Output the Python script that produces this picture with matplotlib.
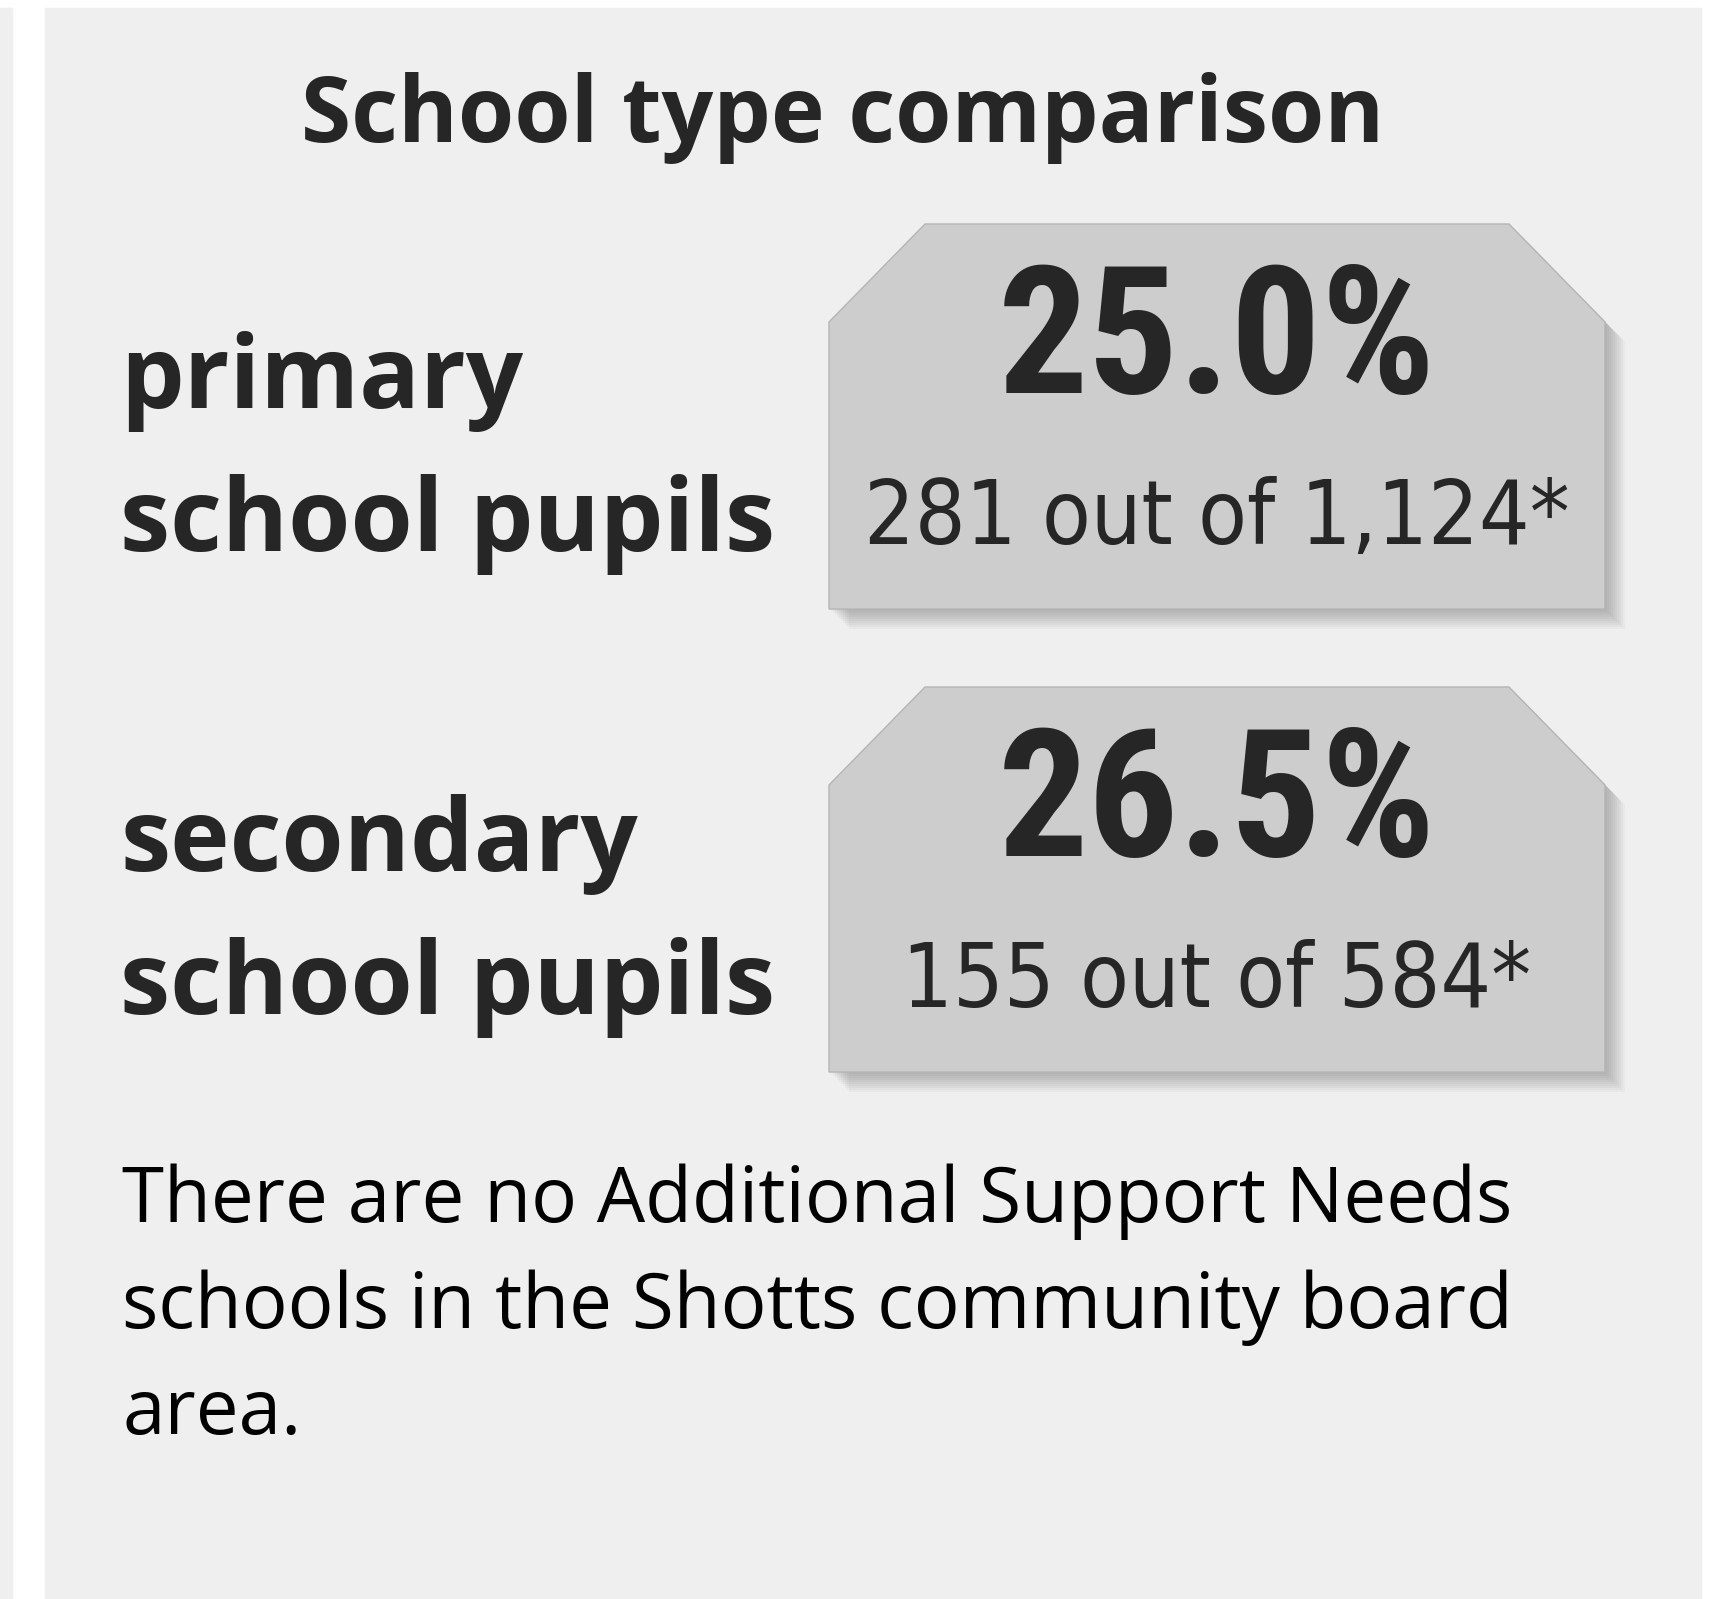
import matplotlib
matplotlib.use('Agg')
import matplotlib.pyplot as plt
from matplotlib.patches import Polygon, Rectangle
import numpy as np

# Данные
categories = ['primary\nschool pupils', 'secondary\nschool pupils']
pupils = [281, 155]
totals = [1124, 584]
shares = [25.0, 26.5]
title = 'School type comparison'
note = ('There are no Additional Support Needs\n'
        'schools in the Shotts community board\n'
        'area.')

W, H = 1710, 1599
fig = plt.figure(figsize=(W / 100, H / 100), dpi=100)
ax = fig.add_axes([0, 0, 1, 1])
ax.set_xlim(0, W)
ax.set_ylim(H, 0)
ax.axis('off')
fig.patch.set_facecolor('white')

narrow = ['Roboto Condensed', 'Liberation Sans Narrow',
          'DejaVu Sans Condensed', 'DejaVu Sans']

# фон панели
ax.add_patch(Rectangle((0, 8), 12, H, color='#efefef', zorder=0))
ax.add_patch(Rectangle((45, 8), 1656, H, color='#efefef', zorder=0))

ax.text(843, 142, title, ha='center', va='baseline', fontsize=65.5,
        fontweight='bold', family='Open Sans', color='#262626')


# Ярлык с усечёнными углами
def tag(x0, y0, x1, y1, cut_x, cut_y):
    return np.array([[x0, y0 + cut_y], [x0 + cut_x, y0], [x1 - cut_x, y0],
                     [x1, y0 + cut_y], [x1, y1], [x0, y1]])


box_l, box_r = 829, 1605
box_h = 385
step = 463
for i, cat in enumerate(categories):
    top = 224 + i * step
    pts = tag(box_l, top, box_r, top + box_h, 96, 98)
    # размытая тень
    for k in range(2, 22, 2):
        ax.add_patch(Polygon(pts + [k, k], closed=True, color='#444444',
                             alpha=0.04, lw=0, zorder=1))
    ax.add_patch(Polygon(pts, closed=True, facecolor='#cdcdcd',
                         edgecolor='#b5b5b5', lw=1, zorder=2))
    cx = (box_l + box_r) / 2
    ax.text(cx, top + 169, '%.1f%%' % shares[i], ha='center', va='baseline',
            fontsize=129, fontweight='bold', family=narrow,
            color='#262626', zorder=3)
    ax.text(cx, top + 320, '%d out of %s*' % (pupils[i], format(totals[i], ',')),
            ha='center', va='baseline', fontsize=64, family='DejaVu Sans',
            fontstretch='condensed', color='#262626', zorder=3)
    ax.text(120, top + 327, cat, ha='left', va='baseline', fontsize=72.5,
            fontweight='bold', family='Open Sans', color='#262626',
            linespacing=1.54)

ax.text(122, 1434, note, ha='left', va='baseline', fontsize=55,
        family='Open Sans', color='#000000', linespacing=1.5)

fig.savefig('out.png', dpi=100)
